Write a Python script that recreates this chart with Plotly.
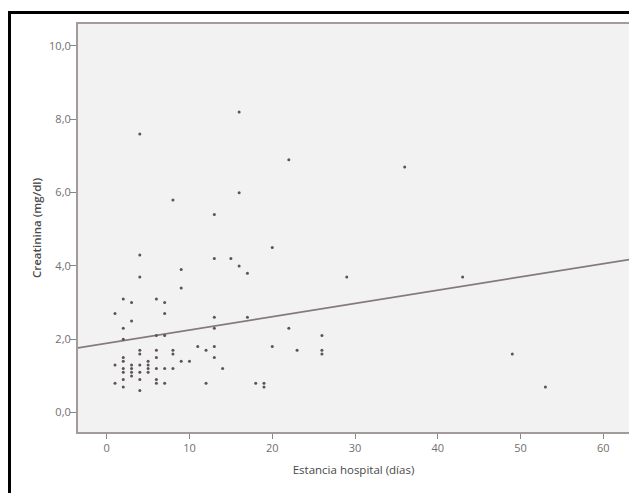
import plotly.graph_objects as go

# Data: hospital stay (days) vs creatinine (mg/dl)
estancia = [1, 1, 1,
            2, 2, 2, 2, 2, 2, 2, 2, 2,
            3, 3, 3, 3, 3, 3,
            4, 4, 4, 4, 4, 4, 4, 4, 4,
            5, 5, 5, 5,
            6, 6, 6, 6, 6, 6, 6,
            7, 7, 7, 7, 7,
            8, 8, 8, 8,
            9, 9, 9,
            10, 11, 12, 12,
            13, 13, 13, 13, 13, 13,
            14, 15, 16, 16, 16, 17, 17,
            18, 19, 19, 20, 20, 22, 22, 23,
            26, 26, 26, 29, 36, 43, 49, 53]
creatinina = [2.7, 1.3, 0.8,
              3.1, 2.3, 2.0, 1.5, 1.4, 1.2, 1.1, 0.9, 0.7,
              3.0, 2.5, 1.3, 1.2, 1.1, 1.0,
              7.6, 4.3, 3.7, 1.7, 1.6, 1.3, 1.1, 0.9, 0.6,
              1.4, 1.3, 1.2, 1.1,
              3.1, 2.1, 1.7, 1.5, 1.2, 0.9, 0.8,
              3.0, 2.7, 2.1, 1.2, 0.8,
              5.8, 1.7, 1.6, 1.2,
              3.9, 3.4, 1.4,
              1.4, 1.8, 1.7, 0.8,
              5.4, 4.2, 2.6, 2.3, 1.8, 1.5,
              1.2, 4.2, 8.2, 6.0, 4.0, 3.8, 2.6,
              0.8, 0.8, 0.7, 4.5, 1.8, 6.9, 2.3, 1.7,
              2.1, 1.7, 1.6, 3.7, 6.7, 3.7, 1.6, 0.7]

# Fit line (linear regression as drawn in the reference)
fit_intercept = 1.89
fit_slope = 0.0362
fit_x = [-4, 64]
fit_y = [fit_intercept + fit_slope * v for v in fit_x]

x_ticks = [0, 10, 20, 30, 40, 50, 60]
y_ticks = [0, 2, 4, 6, 8, 10]

fig = go.Figure()
fig.add_trace(go.Scatter(x=fit_x, y=fit_y, mode="lines",
                         line=dict(color="#857a7a", width=1.8),
                         hoverinfo="skip", showlegend=False))
fig.add_trace(go.Scatter(x=estancia, y=creatinina, mode="markers",
                         marker=dict(size=3, color="#5e5252"),
                         showlegend=False))

font_fam = "Open Sans, Roboto, sans-serif"

W, H = 629, 493
L, T, B = 78, 24, 61
pw = W - L
ph = H - T - B

fig.update_layout(
    width=W, height=H,
    margin=dict(l=L, r=0, t=T, b=B),
    paper_bgcolor="white",
    plot_bgcolor="#f2f2f2",
    separators=",.",
    font=dict(family=font_fam, size=11, color="#666"),
    xaxis=dict(range=[-3.47, 63.1], tickvals=x_ticks, showgrid=False, zeroline=False,
               showline=True, mirror=True, linecolor="#a39b9b", linewidth=2,
               ticks="outside", ticklen=5, tickcolor="#888", tickwidth=1,
               tickfont=dict(size=11, color="#707070"),
               title=dict(text="Estancia hospital (días)", standoff=12,
                          font=dict(size=11.5, color="#484848"))),
    yaxis=dict(range=[-0.53, 10.6], tickvals=y_ticks, tickformat=".1f",
               showgrid=False, zeroline=False,
               showline=True, mirror=False, linecolor="#a39b9b", linewidth=2,
               ticks="outside", ticklen=6, tickcolor="#888", tickwidth=1,
               ticklabelstandoff=-3,
               tickfont=dict(size=11, color="#707070"),
               title=dict(text="Creatinina (mg/dl)", standoff=5,
                          font=dict(size=11.5, color="#4a4a4a", weight=600))),
    shapes=[
        dict(type="line", xref="paper", yref="paper",
             x0=(9.5 - L) / pw, x1=(9.5 - L) / pw, y0=-0.3, y1=(T + ph - 12.5) / ph,
             line=dict(color="black", width=3)),
        dict(type="line", xref="paper", yref="paper",
             x0=(8 - L) / pw, x1=1.1, y0=(T + ph - 12.5) / ph, y1=(T + ph - 12.5) / ph,
             line=dict(color="black", width=3)),
    ],
)

fig.write_html(
    "out.html",
    config={"displayModeBar": False},
    post_script="document.body.style.margin='0px';document.body.style.overflow='hidden';",
)
